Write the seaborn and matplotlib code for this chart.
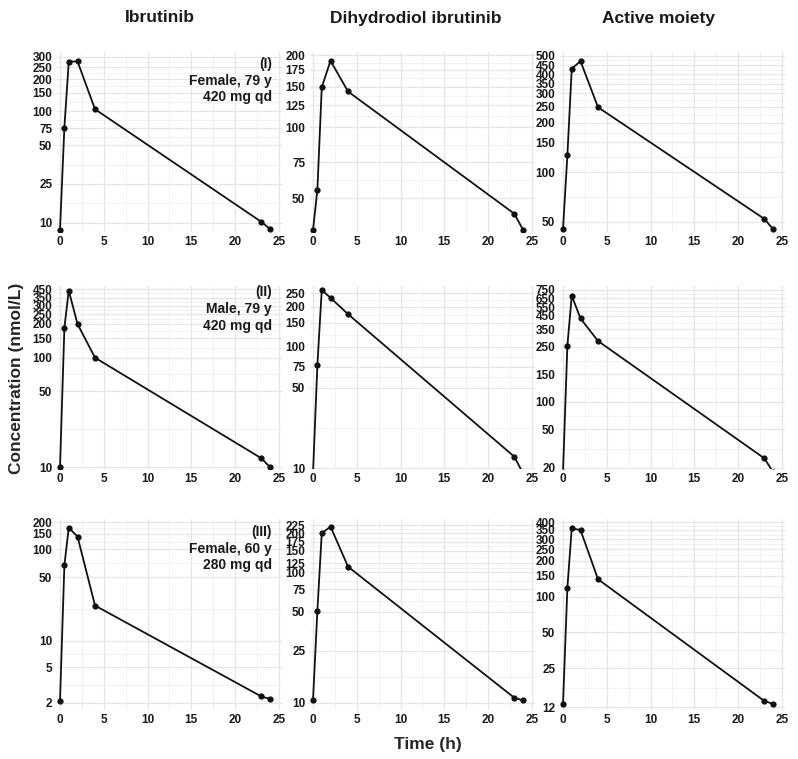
import numpy as np
import matplotlib
matplotlib.use("Agg")
import matplotlib.pyplot as plt
import seaborn as sns

# Sampling times (h)
times = [0, 0.5, 1, 2, 4, 23, 24]

# Concentrations (nmol/L)
ibr_I = [8.5, 76, 275, 277, 104, 10.2, 8.6]
dhd_I = [35, 55, 149, 190, 143, 42, 35]
act_I = [45, 126, 430, 470, 248, 52, 45]

ibr_II = [10, 185, 430, 200, 100, 12.1, 10]
dhd_II = [9, 77, 264, 232, 175, 12.6, 9]
act_II = [18, 255, 680, 428, 279, 25, 18]

ibr_III = [2.1, 67, 175, 140, 24.4, 2.35, 2.2]
dhd_III = [10.4, 51, 200, 220, 115, 10.9, 10.4]
act_III = [12.8, 119, 360, 350, 140, 13.5, 12.8]

# y tick labels per panel
ticks_ibr_I = [10, 25, 50, 75, 100, 150, 200, 250, 300]
ticks_dhd_I = [50, 75, 100, 125, 150, 175, 200]
ticks_act_I = [50, 100, 150, 200, 250, 300, 350, 400, 450, 500]
ticks_ibr_II = [10, 50, 100, 150, 200, 250, 300, 350, 450]
ticks_dhd_II = [10, 50, 75, 100, 150, 200, 250]
ticks_act_II = [20, 50, 100, 150, 250, 350, 450, 550, 650, 750]
ticks_ibr_III = [2, 5, 10, 50, 100, 150, 200]
ticks_dhd_III = [10, 25, 50, 75, 100, 125, 150, 175, 200, 225]
ticks_act_III = [12, 25, 50, 100, 150, 200, 250, 300, 350, 400]

col_titles = ["Ibrutinib", "Dihydrodiol ibrutinib", "Active moiety"]
patients = ["(I)\nFemale, 79 y\n420 mg qd",
            "(II)\nMale, 79 y\n420 mg qd",
            "(III)\nFemale, 60 y\n280 mg qd"]

# The original axes are not a clean log scale: each tick sits at its own
# height. Store where each tick lands (pixels from the top of the figure)
# and build a function scale that goes through them.
tickpix_ibr_I = [222.7, 184, 145, 128.3, 111, 92.7, 79.3, 67.3, 56.7]
tickpix_dhd_I = [198.3, 162.3, 127.3, 105, 86.7, 70, 55]
tickpix_act_I = [221.7, 172.3, 142.3, 122.7, 106.7, 93.3, 83.7, 74.3, 65, 55.7]
tickpix_ibr_II = [467.3, 391, 357.7, 338.3, 324, 314.3, 306, 297.7, 289]
tickpix_dhd_II = [468.3, 387.7, 366.7, 346.7, 322.7, 306.7, 293.3]
tickpix_act_II = [467.7, 429.3, 401.7, 374.3, 346.7, 329.3, 315.7, 307, 298.3, 290]
tickpix_ibr_III = [702.7, 667.3, 640.7, 577.3, 549, 534, 522.3]
tickpix_dhd_III = [702.7, 650.7, 611.7, 589.3, 572.3, 563.3, 550.7, 541.7, 533.3, 525]
tickpix_act_III = [707.3, 668.3, 632.3, 596.7, 575.7, 560.7, 549.3, 539, 530, 522.3]


def make_scale(ticks, pix):
    lt = np.log10(ticks)
    p = -np.asarray(pix, dtype=float)
    s0 = (p[1] - p[0]) / (lt[1] - lt[0])
    s1 = (p[-1] - p[-2]) / (lt[-1] - lt[-2])

    def fwd(v):
        v = np.log10(np.clip(np.asarray(v, dtype=float), 1e-6, None))
        out = np.interp(v, lt, p)
        out = np.where(v < lt[0], p[0] + (v - lt[0]) * s0, out)
        out = np.where(v > lt[-1], p[-1] + (v - lt[-1]) * s1, out)
        return out

    def inv(q):
        q = np.asarray(q, dtype=float)
        out = np.interp(q, p, lt)
        out = np.where(q < p[0], lt[0] + (q - p[0]) / s0, out)
        out = np.where(q > p[-1], lt[-1] + (q - p[-1]) / s1, out)
        return 10 ** out

    return fwd, inv


panels = [
    [(ibr_I, ticks_ibr_I, tickpix_ibr_I), (dhd_I, ticks_dhd_I, tickpix_dhd_I),
     (act_I, ticks_act_I, tickpix_act_I)],
    [(ibr_II, ticks_ibr_II, tickpix_ibr_II), (dhd_II, ticks_dhd_II, tickpix_dhd_II),
     (act_II, ticks_act_II, tickpix_act_II)],
    [(ibr_III, ticks_ibr_III, tickpix_ibr_III), (dhd_III, ticks_dhd_III, tickpix_dhd_III),
     (act_III, ticks_act_III, tickpix_act_III)],
]

sns.set_theme(style="whitegrid")
plt.rcParams["font.family"] = ["Liberation Sans", "DejaVu Sans"]

W, H = 798, 759
fig = plt.figure(figsize=(W / 100, H / 100), dpi=100)

lefts = [56.5, 309.5, 559.5]
width = 225
row_edges = [(52, 232), (286, 469), (519, 710)]  # top, bottom in pixels

for r in range(3):
    top, bot = row_edges[r]
    for c in range(3):
        vals, yt, pix = panels[r][c]
        fwd, inv = make_scale(yt, pix)
        ax = fig.add_axes([lefts[c] / W, 1 - bot / H, width / W, (bot - top) / H])
        ax.set_yscale("function", functions=(fwd, inv))
        sns.lineplot(x=times, y=vals, ax=ax, color="#111111", marker="o",
                     markersize=4.5, linewidth=1.3, markeredgewidth=0)
        ax.set_xlim(-0.4, 25.3)
        ax.set_ylim(float(inv(-bot)), float(inv(-top)))
        ax.set_yticks(yt)
        ax.set_yticklabels([str(t) for t in yt])
        ax.yaxis.set_minor_locator(matplotlib.ticker.NullLocator())
        ax.set_xticks([0, 5, 10, 15, 20, 25])
        ax.set_xticks([2.5, 7.5, 12.5, 17.5, 22.5], minor=True)
        # minor horizontal grid halfway between ticks
        for a, b in zip(yt[:-1], yt[1:]):
            m = float(inv((fwd(a) + fwd(b)) / 2))
            ax.axhline(m, color="#f0f0f0", linewidth=0.6, zorder=0)
        ax.grid(True, which="major", color="#e6e6e6", linewidth=0.9)
        ax.grid(True, which="minor", axis="x", color="#f0f0f0", linewidth=0.6)
        ax.set_facecolor("white")
        for s in ax.spines.values():
            s.set_visible(False)
        ax.tick_params(axis="both", length=0, pad=3, labelsize=8.5,
                       labelcolor="#1a1a1a")
        for lab in ax.get_xticklabels() + ax.get_yticklabels():
            lab.set_fontweight("bold")
        ax.set_xlabel("")
        ax.set_ylabel("")

# column titles
for x, t in zip([160, 416, 659], col_titles):
    fig.text(x / W, 1 - 18 / H, t, ha="center", va="center",
             fontsize=12.5, fontweight="bold", color="#1a1a1a")

# patient labels
for top, t in zip([57, 285, 525], patients):
    fig.text(272 / W, 1 - top / H, t, ha="right", va="top", fontsize=10,
             fontweight="bold", linespacing=1.25, multialignment="right",
             color="#1a1a1a")

fig.text(17 / W, 1 - 378 / H, "Concentration (nmol/L)", rotation=90,
         ha="center", va="center", fontsize=12.5, fontweight="bold")
fig.text(428 / W, 1 - 745 / H, "Time (h)", ha="center", va="center",
         fontsize=12.5, fontweight="bold")

fig.savefig("out.png", dpi=100, facecolor="white")
